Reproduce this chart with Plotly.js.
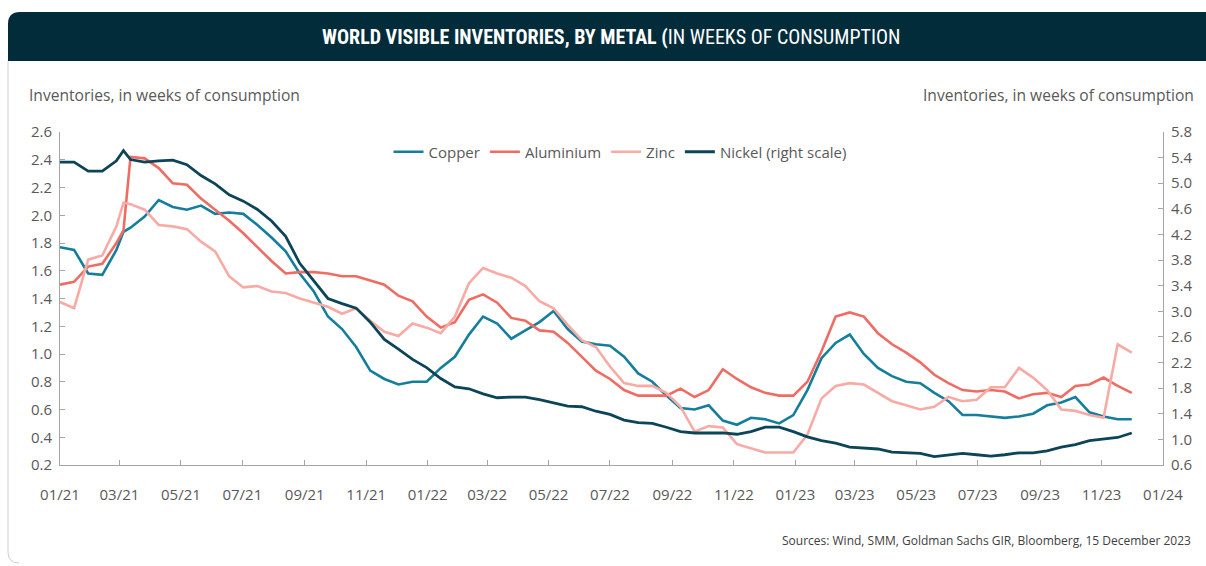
<!DOCTYPE html>
<html>
<head>
<meta charset="utf-8">
<script src="https://cdn.plot.ly/plotly-3.0.1.min.js"></script>
<style>html,body{margin:0;padding:0;background:#fff;}#chart{width:1206px;height:566px;}</style>
</head>
<body>
<div id="chart"></div>
<script>
// ---- data ----
const dates = ['2021-01-01','2021-01-15','2021-01-29','2021-02-12','2021-02-26','2021-03-05','2021-03-12','2021-03-26','2021-04-09','2021-04-23','2021-05-07','2021-05-21','2021-06-04','2021-06-18','2021-07-02','2021-07-16','2021-07-30','2021-08-13','2021-08-27','2021-09-10','2021-09-24','2021-10-08','2021-10-22','2021-11-05','2021-11-19','2021-12-03','2021-12-17','2021-12-31','2022-01-14','2022-01-28','2022-02-11','2022-02-25','2022-03-11','2022-03-25','2022-04-08','2022-04-22','2022-05-06','2022-05-20','2022-06-03','2022-06-17','2022-07-01','2022-07-15','2022-07-29','2022-08-12','2022-08-26','2022-09-09','2022-09-23','2022-10-07','2022-10-21','2022-11-04','2022-11-18','2022-12-02','2022-12-16','2022-12-30','2023-01-13','2023-01-27','2023-02-10','2023-02-24','2023-03-10','2023-03-24','2023-04-07','2023-04-21','2023-05-05','2023-05-19','2023-06-02','2023-06-16','2023-06-30','2023-07-14','2023-07-28','2023-08-11','2023-08-25','2023-09-08','2023-09-22','2023-10-06','2023-10-20','2023-11-03','2023-11-17','2023-12-01'];

const copper = [1.77,1.75,1.58,1.57,1.75,1.88,1.91,1.99,2.11,2.06,2.04,2.07,2.01,2.02,2.01,1.93,1.84,1.74,1.58,1.45,1.27,1.18,1.05,0.88,0.82,0.78,0.80,0.80,0.90,0.98,1.14,1.27,1.22,1.11,1.17,1.23,1.31,1.18,1.09,1.07,1.06,0.98,0.86,0.80,0.70,0.61,0.60,0.63,0.52,0.49,0.54,0.53,0.50,0.56,0.74,0.97,1.08,1.14,1.00,0.90,0.84,0.80,0.79,0.72,0.66,0.56,0.56,0.55,0.54,0.55,0.57,0.63,0.65,0.69,0.58,0.55,0.53,0.53];

const aluminium = [1.50,1.52,1.63,1.65,1.80,1.89,2.42,2.41,2.34,2.23,2.22,2.12,2.04,1.96,1.87,1.77,1.67,1.58,1.59,1.59,1.58,1.56,1.56,1.53,1.50,1.42,1.38,1.27,1.19,1.23,1.39,1.43,1.37,1.26,1.24,1.17,1.16,1.08,0.98,0.88,0.82,0.74,0.70,0.70,0.70,0.75,0.69,0.74,0.89,0.82,0.76,0.72,0.70,0.70,0.80,1.02,1.27,1.30,1.27,1.15,1.07,1.01,0.94,0.85,0.79,0.74,0.73,0.74,0.73,0.68,0.71,0.72,0.69,0.77,0.78,0.83,0.77,0.72];

const zinc = [1.375,1.33,1.68,1.71,1.92,2.09,2.08,2.04,1.93,1.92,1.90,1.81,1.74,1.56,1.48,1.49,1.45,1.44,1.40,1.37,1.34,1.29,1.33,1.24,1.16,1.13,1.22,1.19,1.15,1.27,1.51,1.62,1.58,1.55,1.49,1.38,1.33,1.21,1.10,1.05,0.91,0.79,0.77,0.77,0.72,0.62,0.44,0.48,0.47,0.35,0.32,0.29,0.29,0.29,0.42,0.68,0.77,0.79,0.78,0.72,0.66,0.63,0.60,0.62,0.69,0.66,0.67,0.76,0.76,0.90,0.83,0.74,0.60,0.59,0.56,0.54,1.07,1.01];

const nickel = [5.33,5.33,5.19,5.19,5.35,5.51,5.37,5.33,5.35,5.36,5.29,5.12,4.99,4.82,4.72,4.59,4.41,4.17,3.75,3.47,3.20,3.12,3.05,2.83,2.56,2.41,2.25,2.12,1.95,1.82,1.79,1.71,1.65,1.66,1.66,1.62,1.57,1.52,1.51,1.44,1.39,1.30,1.26,1.25,1.19,1.12,1.10,1.10,1.10,1.08,1.12,1.19,1.19,1.12,1.04,0.98,0.94,0.88,0.86,0.85,0.80,0.79,0.78,0.73,0.76,0.78,0.76,0.74,0.76,0.79,0.79,0.82,0.88,0.92,0.98,1.00,1.03,1.10];

const seriesNames = ['Copper','Aluminium','Zinc','Nickel (right scale)'];
const titleText = '<b>WORLD VISIBLE INVENTORIES, BY METAL (</b>IN WEEKS OF CONSUMPTION';
const axisTitle = 'Inventories, in weeks of consumption';
const sourceText = 'Sources: Wind, SMM, Goldman Sachs GIR, Bloomberg, 15 December 2023';

// ---- layout helpers (pixel -> paper) ----
const W = 1206, H = 566;
const M = {l: 60, r: 43, t: 132, b: 101};
const PW = W - M.l - M.r, PH = H - M.t - M.b;
const px = v => (v - M.l) / PW;
const py = v => (H - M.b - v) / PH;

const colors = {copper:'#147e9c', aluminium:'#ef6c63', zinc:'#f8aaa5', nickel:'#0b4557'};
const tickFont = {family:'Open Sans, Noto Sans, sans-serif', size:15, color:'#595959'};

const traces = [
  {x: dates, y: copper, name: seriesNames[0], type:'scatter', mode:'lines', line:{color:colors.copper, width:2.6}},
  {x: dates, y: aluminium, name: seriesNames[1], type:'scatter', mode:'lines', line:{color:colors.aluminium, width:2.6}},
  {x: dates, y: zinc, name: seriesNames[2], type:'scatter', mode:'lines', line:{color:colors.zinc, width:2.6}},
  {x: dates, y: nickel, name: seriesNames[3], type:'scatter', mode:'lines', yaxis:'y2', line:{color:colors.nickel, width:2.8}}
];

const barPath = `M ${px(8)},${py(61)} L ${px(8)},${py(24)} Q ${px(8)},${py(12)} ${px(20)},${py(12)} L ${px(1206)},${py(12)} L ${px(1206)},${py(61)} Z`;
const framePath = `M ${px(8)},${py(61)} L ${px(8)},${py(552)} Q ${px(8)},${py(563)} ${px(19)},${py(563)}`;

const axisCommon = {
  showline:true, linecolor:'#a6a6a6', linewidth:1, ticks:'inside', ticklen:5, tickcolor:'#a6a6a6',
  showgrid:false, zeroline:false, tickfont: tickFont, fixedrange:true
};

const layout = {
  width: W, height: H,
  margin: {l:M.l, r:M.r, t:M.t, b:M.b, pad:0},
  paper_bgcolor:'#ffffff', plot_bgcolor:'#ffffff',
  showlegend:true,
  legend:{orientation:'h', x:px(620), xanchor:'center', y:py(152), yanchor:'middle',
          font:{family:'Open Sans, Noto Sans, sans-serif', size:15, color:'#595959'}, bgcolor:'rgba(0,0,0,0)', traceorder:'normal'},
  xaxis: Object.assign({}, axisCommon, {
    type:'date', range:['2021-01-01','2024-01-01'], tick0:'2021-01-01', dtick:'M2', tickformat:'%m/%y',
    ticklabelstandoff:16
  }),
  yaxis: Object.assign({}, axisCommon, {
    range:[0.2,2.6], tick0:0.2, dtick:0.2, tickformat:'.1f', ticklabelstandoff:4
  }),
  yaxis2: Object.assign({}, axisCommon, {
    overlaying:'y', side:'right', range:[0.6,5.8], tick0:0.6, dtick:0.4, tickformat:'.1f', ticklabelstandoff:4
  }),
  shapes:[
    {type:'path', xref:'paper', yref:'paper', path:barPath, fillcolor:'#032c3b', line:{width:0}, layer:'below'},
    {type:'path', xref:'paper', yref:'paper', path:framePath, line:{color:'#cfcfcf', width:1}, layer:'below'}
  ],
  annotations:[
    {xref:'paper', yref:'paper', x:px(611), y:py(37), xanchor:'center', yanchor:'middle', showarrow:false,
     text:titleText, font:{family:'Liberation Sans Narrow, Roboto Condensed, sans-serif', size:20, color:'#ffffff'}},
    {xref:'paper', yref:'paper', x:px(27), y:py(95), xanchor:'left', yanchor:'middle', showarrow:false,
     text:axisTitle, font:{family:tickFont.family, size:15.6, color:'#595959'}},
    {xref:'paper', yref:'paper', x:px(1196), y:py(95), xanchor:'right', yanchor:'middle', showarrow:false,
     text:axisTitle, font:{family:tickFont.family, size:15.6, color:'#595959'}},
    {xref:'paper', yref:'paper', x:px(1193), y:py(540), xanchor:'right', yanchor:'middle', showarrow:false,
     text:sourceText, font:{family:'Open Sans, Noto Sans, sans-serif', size:12, color:'#404040'}}
  ]
};

Plotly.newPlot('chart', traces, layout, {displayModeBar:false, staticPlot:true});
</script>
</body>
</html>
